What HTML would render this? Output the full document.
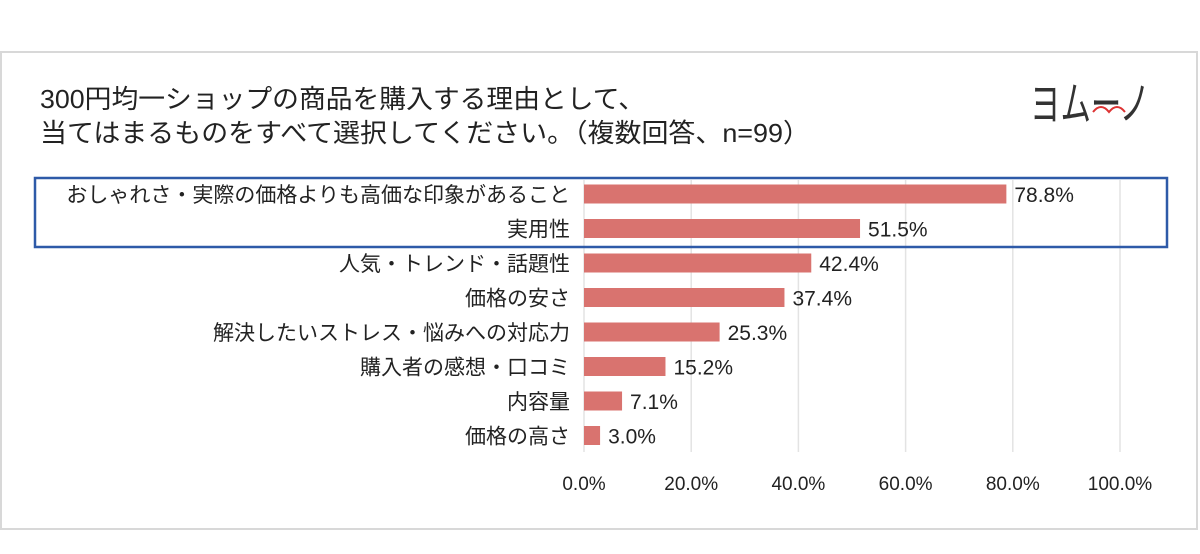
<!DOCTYPE html>
<html><head><meta charset="utf-8"><style>
body{margin:0;background:#fff;}
svg{display:block;font-family:"Liberation Sans","Noto Sans CJK JP",sans-serif;}
</style></head><body>
<svg id="chart" width="1200" height="554" viewBox="0 0 1200 554">
<rect x="1" y="52" width="1196" height="477" fill="#fff" stroke="#d8d8d8" stroke-width="2"/>
<text x="40" y="108" font-size="26" fill="#222" textLength="605" lengthAdjust="spacingAndGlyphs">300円均一ショップの商品を購入する理由として、</text>
<text x="40" y="142" font-size="26" fill="#222" textLength="770" lengthAdjust="spacingAndGlyphs">当てはまるものをすべて選択してください。（複数回答、n=99）</text>
<g>
<text x="1030" y="120" font-size="46" fill="#333" font-weight="normal" textLength="120" lengthAdjust="spacingAndGlyphs">ヨムーノ</text>
<path d="M1093 112 q8 -10 16 0 q8 -10 16 0" fill="none" stroke="#d33" stroke-width="2"/>
</g>
<g id="grid"></g>
<g id="bars"></g>
<rect x="35" y="178" width="1132" height="69" fill="none" stroke="#2e5aa8" stroke-width="2.5"/>
</svg>
<script>
const categories=["おしゃれさ・実際の価格よりも高価な印象があること","実用性","人気・トレンド・話題性","価格の安さ","解決したいストレス・悩みへの対応力","購入者の感想・口コミ","内容量","価格の高さ"];
const values=[78.8,51.5,42.4,37.4,25.3,15.2,7.1,3.0];
const ticks=[0,20,40,60,80,100];
const NS="http://www.w3.org/2000/svg";
const x0=584,x1=1120,yTop=180,yBot=452,rowStart=194,rowStep=34.5,barH=19;
const xs=v=>x0+(x1-x0)*v/100;
const ys=i=>rowStart+i*rowStep;
function mk(tag,attrs,parent){const e=document.createElementNS(NS,tag);for(const k in attrs)e.setAttribute(k,attrs[k]);parent.appendChild(e);return e;}
const grid=document.getElementById('grid'),bars=document.getElementById('bars');
ticks.forEach(t=>{
 const l=mk('line',{x1:xs(t),x2:xs(t),y1:yTop,y2:yBot,stroke:'#e3e3e3','stroke-width':1.5},grid);
 
 
 const tx=mk('text',{x:xs(t),y:490,'font-size':19,'text-anchor':'middle',fill:'#222'},grid);
 tx.textContent=t.toFixed(1)+'%';
 
 
});
categories.forEach((c,i)=>{
 const y=ys(i);
 const lb=mk('text',{x:570,y:y+8,'font-size':21,'text-anchor':'end',fill:'#222'},bars);
 lb.textContent=c;
 
 
 const r=mk('rect',{x:x0,y:y-barH/2,width:xs(values[i])-x0,height:barH,fill:'#d9736f'},bars);
 
 
 const v=mk('text',{x:xs(values[i])+8,y:y+8,'font-size':21,fill:'#222'},bars);
 v.textContent=values[i].toFixed(1)+'%';
 
 
});
</script>
</body></html>
